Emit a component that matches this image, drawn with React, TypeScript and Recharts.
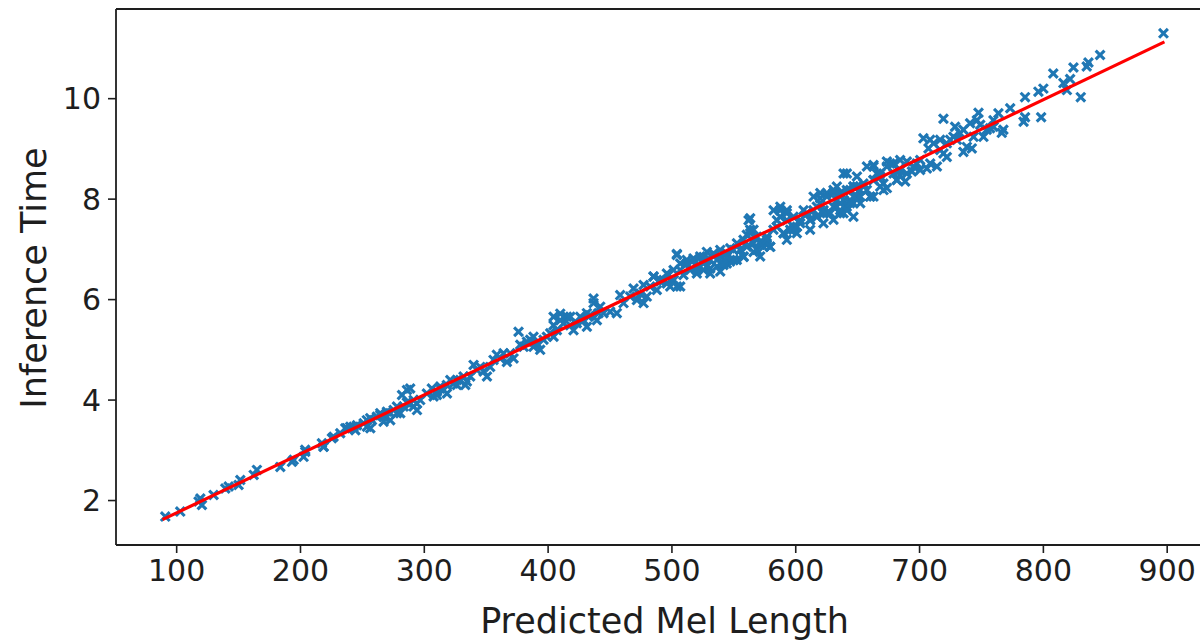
import React from 'react';
import { ScatterChart, Scatter, XAxis, YAxis, Label, ReferenceLine } from 'recharts';

// ---- axis definitions ----
const xTicks = [100, 200, 300, 400, 500, 600, 700, 800, 900];
const yTicks = [2, 4, 6, 8, 10];
const xDomain: [number, number] = [51, 937];
const yDomain: [number, number] = [1.115, 11.785];
const xTitle = 'Predicted Mel Length';
const yTitle = 'Inference Time';

// ---- observations: [predicted mel length, inference time] ----
const shortUtterances: [number, number][] = [
  [90.8, 1.68], [102.9, 1.78], [119.1, 2.04], [120.4, 1.91], [117.7, 1.98], [129.8, 2.11],
  [139.3, 2.24], [142, 2.28], [151.4, 2.41], [150, 2.31], [164.8, 2.61], [162.2, 2.51],
  [183.7, 2.67], [193.1, 2.77], [194.5, 2.81], [203.9, 2.97], [202.5, 2.87], [218.7, 3.07],
  [217.3, 3.14], [225.4, 3.24], [236.2, 3.44], [240.2, 3.47], [244.3, 3.4], [253.7, 3.47],
  [257.7, 3.6], [256.4, 3.44], [267.1, 3.67], [272.5, 3.6], [277.9, 3.74], [275.2, 3.8],
  [283.3, 3.87], [288.7, 3.93], [286, 4.2], [282, 4.1], [291.4, 4.0], [294.1, 3.8],
  [267.1, 3.57], [264.4, 3.74], [203.8, 3.01], [218.6, 3.07], [226.7, 3.27], [237.5, 3.44],
  [242.9, 3.47], [251, 3.54], [256.3, 3.64], [261.7, 3.67], [269.8, 3.77], [280.6, 3.74],
  [285.9, 3.95], [288.6, 4.23], [291.3, 3.87], [296.7, 4.0], [232.1, 3.34], [245.6, 3.5],
  [253.6, 3.6], [264.4, 3.7], [272.5, 3.74], [277.9, 3.87], [294, 3.93],
];

const mediumUtterances: [number, number][] = [
  [310.2, 4.17], [312.9, 4.27], [318.3, 4.13], [326.4, 4.4], [331.7, 4.47], [333.1, 4.3],
  [307.5, 4.07], [306.1, 4.23], [310.2, 4.1], [312.9, 4.23], [318.2, 4.3], [323.6, 4.33],
  [329, 4.4], [334.4, 4.37], [339.8, 4.7], [342.5, 4.6], [347.9, 4.57], [350.6, 4.47],
  [355.9, 4.8], [358.6, 4.9], [364, 4.93], [366.7, 4.76], [372.1, 4.83], [376.1, 5.36],
  [377.5, 5.1], [382.9, 5.16], [388.2, 5.26], [393.6, 5.0], [399, 5.26], [404.4, 5.49],
  [409.8, 5.59], [415.2, 5.66], [420.5, 5.39], [425.9, 5.66], [431.3, 5.46], [436.7, 5.93],
  [439.4, 5.59], [404.4, 5.26], [388.2, 5.06], [302.1, 4.13], [315.6, 4.2], [321, 4.4],
  [326.3, 4.3], [337.1, 4.47], [345.2, 4.66], [353.2, 4.66], [361.3, 4.83], [369.4, 4.93],
  [380.2, 5.06], [385.5, 5.2], [390.9, 5.13], [396.3, 5.2], [401.7, 5.33], [407.1, 5.39],
  [412.5, 5.53], [417.8, 5.49], [423.2, 5.53], [428.6, 5.59], [434, 5.69], [440.7, 5.73],
  [409.8, 5.72], [417.9, 5.66], [404.4, 5.66],
];

const longUtterances: [number, number][] = [
  [431.3, 5.73], [436.7, 6.02], [442.1, 5.86], [450.1, 5.76], [455.5, 5.73], [458.2, 6.09],
  [469, 6.22], [474.4, 6.12], [477.1, 5.93], [479.7, 6.06], [485.1, 6.46], [487.8, 6.19],
  [490.5, 6.39], [495.9, 6.32], [501.3, 6.39], [506.7, 6.26], [504, 6.91], [506.7, 6.72],
  [512, 6.79], [517.4, 6.82], [522.8, 6.86], [528.2, 6.95], [533.6, 6.89], [539, 6.86],
  [544.3, 6.92], [549.7, 6.99], [520.1, 6.66], [525.5, 6.59], [530.9, 6.62], [536.3, 6.66],
  [541.6, 6.69], [547, 6.76], [552.4, 6.79], [557.8, 6.86], [565.9, 6.95], [571.3, 7.15],
  [576.6, 7.09], [579.3, 7.05], [568.6, 7.25], [563.2, 7.39], [563.2, 7.62], [560.5, 7.29],
  [557.8, 7.19], [587.4, 7.65], [584.7, 7.45], [590.1, 7.32], [592.8, 7.19], [598.2, 7.39],
  [603.6, 7.52], [609, 7.72], [611.6, 7.59], [614.3, 7.78], [617, 7.65], [622.4, 7.52],
  [625.1, 7.72], [630.5, 7.85], [633.2, 7.98], [635.9, 8.12], [641.2, 8.18], [646.6, 8.25],
  [649.3, 8.05], [638.6, 7.72], [619.7, 7.92], [587.4, 7.78], [432.6, 5.66], [444.7, 5.73],
  [460.9, 5.93], [466.3, 6.06], [471.7, 5.99], [482.4, 6.26], [493.2, 6.39], [498.6, 6.26],
  [501.3, 6.59], [509.3, 6.49], [514.7, 6.59], [520.1, 6.52], [525.5, 6.72], [530.9, 6.79],
  [536.3, 6.79], [539, 6.56], [544.3, 6.72], [549.7, 6.79], [555.1, 6.99], [560.5, 7.05],
  [565.9, 7.12], [571.3, 6.86], [576.6, 7.25], [582, 7.39], [592.8, 7.58], [598.2, 7.65],
  [600.9, 7.32], [606.3, 7.78], [611.6, 7.39], [617, 7.85], [622.4, 7.72], [630.5, 7.59],
  [635.9, 7.72], [641.2, 7.85], [643.9, 7.98], [646.6, 7.65], [652, 8.18], [630.5, 8.12],
  [635.9, 7.92], [592.8, 7.78], [638.6, 8.51], [633.2, 8.25], [625.1, 8.12],
  [619.7, 8.02],
];

const denseBandUtterances: [number, number][] = [
  [477.1, 6.29], [485.2, 6.46], [490.6, 6.36], [495.9, 6.52], [501.3, 6.39], [504, 6.26],
  [506.7, 6.59], [504, 6.89], [512.1, 6.72], [517.5, 6.79], [520.2, 6.59], [525.5, 6.85],
  [528.2, 6.66], [530.9, 6.52], [533.6, 6.92], [539, 6.99], [541.7, 6.72], [544.4, 6.85],
  [547.1, 7.02], [549.8, 6.79], [555.2, 6.99], [557.9, 6.85], [552.5, 7.12], [561.9, 7.58],
  [563.2, 7.32], [565.9, 7.39], [568.6, 6.99], [571.3, 7.12], [574, 7.05], [576.7, 7.19],
  [579.4, 7.05], [582.1, 7.78], [584.8, 7.58], [587.5, 7.85], [590.2, 7.32], [592.8, 7.72],
  [595.5, 7.39], [598.2, 7.45], [600.9, 7.45], [603.6, 7.58], [609, 7.72], [611.7, 7.58],
  [614.4, 8.05], [617.1, 7.65], [619.8, 8.12], [622.5, 7.78], [625.2, 8.05], [627.8, 7.72],
  [630.5, 8.18], [635.9, 7.78], [638.6, 7.98], [641.3, 8.51], [644, 8.18], [646.7, 7.92],
  [649.4, 8.25], [652.1, 8.05], [657.5, 8.65], [660.1, 8.05], [662.8, 8.38], [662.8, 8.68],
  [668.2, 8.45], [670.9, 8.18], [673.6, 8.75], [679, 8.71], [681.7, 8.38], [683, 8.58],
];

const veryLongUtterances: [number, number][] = [
  [845.8, 10.87], [836.4, 10.72], [835, 10.64], [824.3, 10.62], [808, 10.5], [821.6, 10.39],
  [816.2, 10.31], [819, 10.17], [830.2, 10.03], [800, 10.2], [796, 10.14], [785.2, 10.03],
  [785.2, 9.63], [784, 9.54], [798.2, 9.63], [773.2, 9.81], [767.7, 9.38], [766.4, 9.32],
  [763.7, 9.71], [759.7, 9.57], [757, 9.41], [747.6, 9.72], [746.3, 9.57], [749, 9.48],
  [751.6, 9.24], [719.3, 9.6], [728.7, 9.44], [735.4, 9.38], [740.8, 9.51], [738.2, 9.04],
  [735.4, 8.94], [742.2, 9.01], [703.1, 9.21], [708.5, 9.18], [716.6, 9.18], [722, 9.11],
  [727.4, 9.24], [707.2, 9.01], [719.3, 8.91], [722, 8.84], [714, 8.65], [705.9, 8.61],
  [676.2, 8.71], [684.3, 8.78], [689.7, 8.75], [697.8, 8.71], [693.8, 8.55], [684.3, 8.48],
  [681.6, 8.38], [688.4, 8.35], [662.8, 8.65], [665.5, 8.51], [673.6, 8.22], [670.8, 8.31],
  [649.4, 8.45], [654.7, 8.31], [660.1, 8.05], [652, 8.05], [643.9, 7.92],
  [641.3, 7.78], [646.7, 8.25], [657.4, 8.18], [662.8, 8.38],
  [668.2, 8.51], [673.6, 8.65], [679, 8.51], [684.4, 8.58], [689.7, 8.51], [695.1, 8.65],
  [700.5, 8.78], [668.2, 8.25], [662.8, 8.05], [646.7, 8.05], [635.9, 8.05],
  [652.1, 7.92], [700.5, 8.58], [708.6, 8.71], [716.7, 8.98], [724.7, 9.18], [711.3, 9.11],
  [730.1, 9.18], [732.8, 9.31], [743.6, 9.24], [754.3, 9.38], [759.7, 9.44], [897, 11.3],
];

// fitted regression line, end points
const fitLineEnds: [number, number][] = [
  [88.5, 1.62],
  [897.8, 11.13],
];

const toRows = (pts: [number, number][]) => pts.map(([mel, time]) => ({ mel, time }));
const scatterRows = toRows([
  ...shortUtterances,
  ...mediumUtterances,
  ...longUtterances,
  ...denseBandUtterances,
  ...veryLongUtterances,
]);
const fitRows = toRows(fitLineEnds);

const AXIS_COLOR = '#1e1e1e';
const FONT = 'DejaVu Sans, sans-serif';

const XMarker = (props: any) => {
  const { cx, cy } = props;
  if (cx == null || cy == null) return <g />;
  const s = 4.4;
  return (
    <path
      d={`M${cx - s},${cy - s}L${cx + s},${cy + s}M${cx - s},${cy + s}L${cx + s},${cy - s}`}
      stroke="#1f77b4"
      strokeWidth={3.1}
      fill="none"
    />
  );
};

const NoMarker = () => <g />;

export default function App() {
  return (
    <div
      style={{
        position: 'absolute',
        left: 0,
        top: 0,
        width: 1200,
        height: 644,
        overflow: 'hidden',
        background: '#ffffff',
      }}
    >
      <ScatterChart
        width={1240}
        height={644}
        margin={{ top: 9, right: 27, left: 0, bottom: 0 }}
      >
        <XAxis
          dataKey="mel"
          type="number"
          domain={xDomain}
          ticks={xTicks}
          allowDataOverflow
          height={99}
          tickSize={8}
          tickMargin={7}
          axisLine={{ stroke: AXIS_COLOR, strokeWidth: 1.8 }}
          tickLine={{ stroke: AXIS_COLOR, strokeWidth: 1.6 }}
          tick={{ fontSize: 30, fill: AXIS_COLOR, fontFamily: FONT }}
        >
          <Label
            content={(p: any) => {
              const vb = p.viewBox || {};
              const cx = vb.x != null ? vb.x + vb.width / 2 : 664;
              return (
                <text
                  x={cx}
                  y={633}
                  textAnchor="middle"
                  fontSize={35}
                  fontFamily={FONT}
                  fill={AXIS_COLOR}
                >
                  {xTitle}
                </text>
              );
            }}
          />
        </XAxis>
        <YAxis
          dataKey="time"
          type="number"
          domain={yDomain}
          ticks={yTicks}
          allowDataOverflow
          width={116}
          tickSize={8}
          tickMargin={7}
          axisLine={{ stroke: AXIS_COLOR, strokeWidth: 1.8 }}
          tickLine={{ stroke: AXIS_COLOR, strokeWidth: 1.6 }}
          tick={{ fontSize: 30, fill: AXIS_COLOR, fontFamily: FONT }}
        >
          <Label
            content={() => (
              <text
                x={46}
                y={278}
                transform="rotate(-90 46 278)"
                textAnchor="middle"
                fontSize={35}
                fontFamily={FONT}
                fill={AXIS_COLOR}
              >
                {yTitle}
              </text>
            )}
          />
        </YAxis>
        <ReferenceLine y={yDomain[1]} stroke={AXIS_COLOR} strokeWidth={1.8} />
        <ReferenceLine x={xDomain[1]} stroke={AXIS_COLOR} strokeWidth={1.8} />
        <Scatter
          name="samples"
          data={scatterRows}
          shape={XMarker}
          isAnimationActive={false}
        />
        <Scatter
          name="fit"
          data={fitRows}
          shape={NoMarker}
          line={{ stroke: '#ff0000', strokeWidth: 3.2 }}
          isAnimationActive={false}
        />
      </ScatterChart>
    </div>
  );
}
